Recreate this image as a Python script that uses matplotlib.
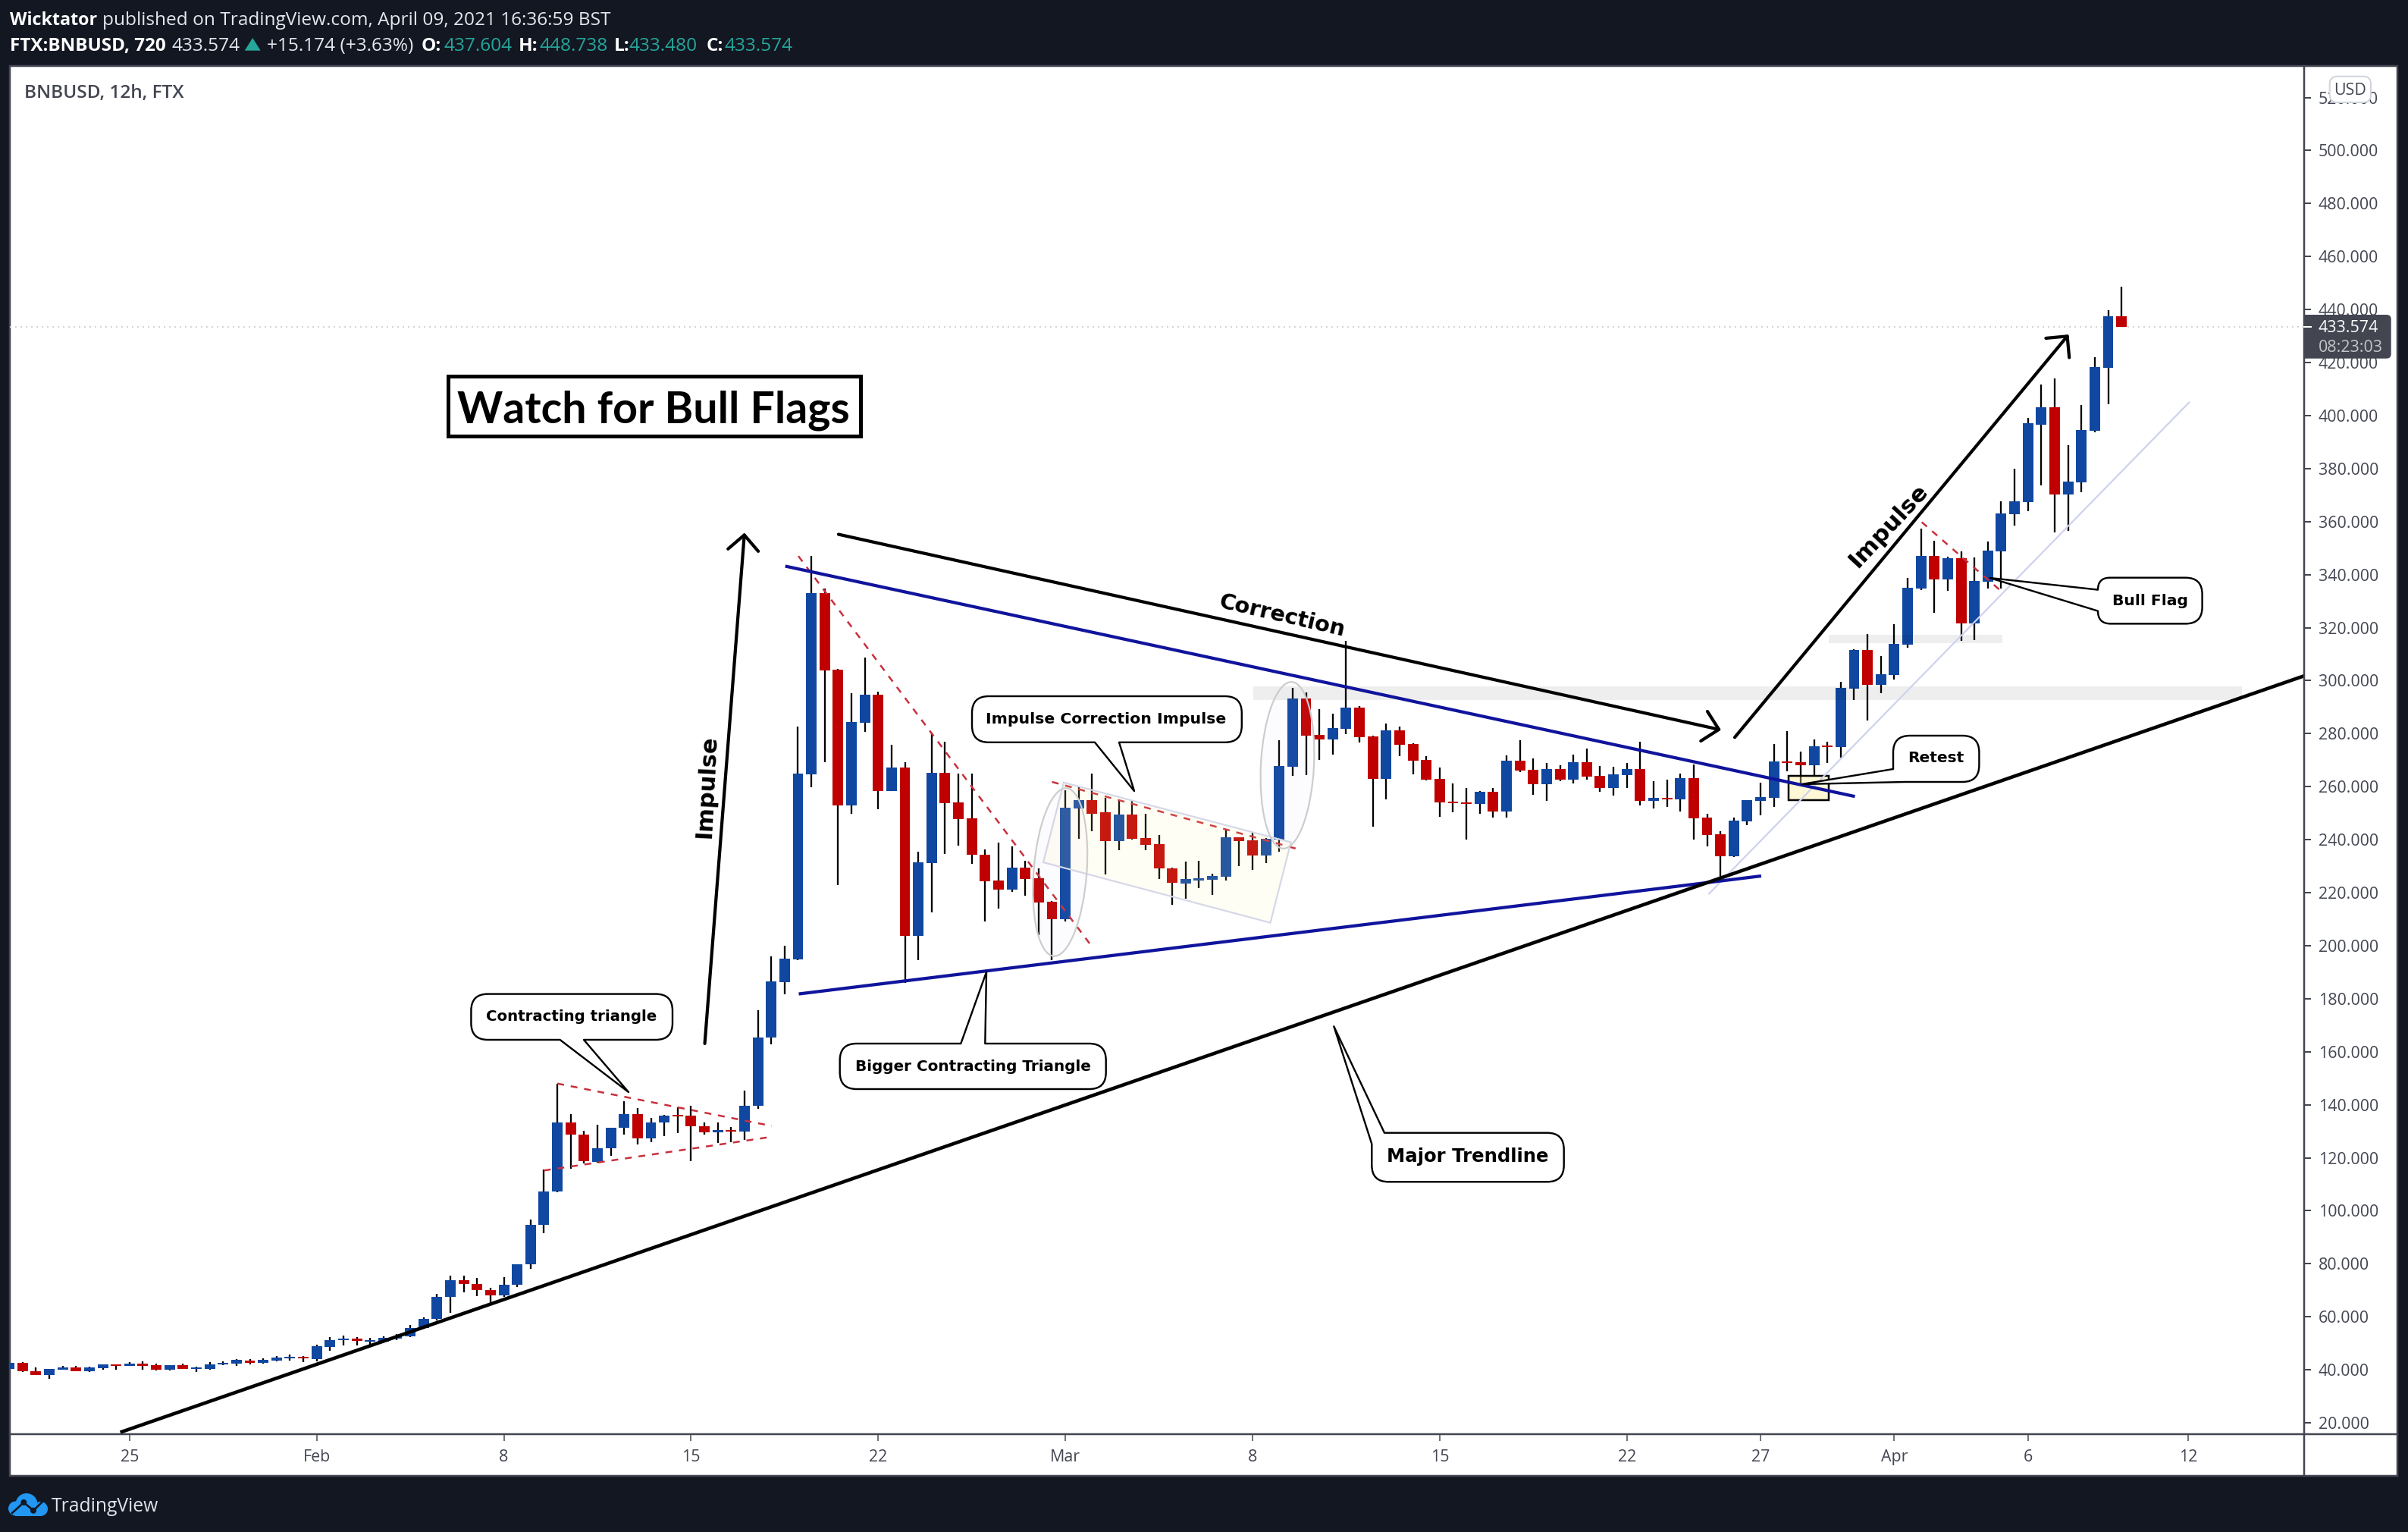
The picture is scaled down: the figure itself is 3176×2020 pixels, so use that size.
import matplotlib
matplotlib.use("Agg")
import matplotlib.pyplot as plt
from matplotlib.path import Path
from matplotlib.patches import PathPatch, Rectangle, Ellipse, Circle, Polygon
from matplotlib.textpath import TextPath
from matplotlib.font_manager import FontProperties
import math

# ---------- data: bars of 12 hours, index 0 = 25 Jan ----------
first_bar = -9
opens = [40.3,42.7,39.6,38.1,40.0,41.0,39.5,40.6,42.0,
 41.5,42.3,41.7,40.0,41.7,40.4,40.4,41.9,42.3,43.6,
 42.7,43.4,44.4,45.0,44.1,48.6,51.1,51.7,50.5,50.7,
 51.7,52.5,55.9,59.2,67.4,73.7,72.5,70.0,68.0,72.2,
 79.7,94.6,107.4,133.4,128.6,118.5,123.7,131.2,136.6,127.4,
 133.2,136.1,135.8,132.0,129.5,130.4,130.0,139.7,165.5,186.2,
 194.9,264.7,333.0,304.2,252.9,284.1,294.7,258.4,267.3,203.7,
 231.2,265.2,254.1,248.0,234.3,224.6,221.1,229.4,225.4,216.6,
 210.0,251.7,254.9,250.3,239.5,249.5,240.6,238.3,229.2,223.5,
 224.6,225.0,226.0,240.9,239.7,234.0,240.0,267.5,293.3,279.5,
 277.8,281.8,289.8,279.0,262.9,281.2,276.1,270.1,262.9,254.4,
 254.1,253.5,258.0,250.6,269.8,266.4,260.9,266.7,262.6,269.2,
 264.1,259.5,264.4,266.7,254.6,255.8,255.2,263.2,248.3,242.0,
 233.7,246.9,254.6,255.8,269.5,269.2,268.1,275.5,275.0,296.9,
 311.5,298.4,302.2,313.5,334.7,347.0,338.2,346.1,321.6,337.3,
 348.7,362.7,367.3,396.7,403.0,370.2,374.7,394.3,417.9,437.6]
closes = [42.7,39.5,38.1,40.3,41.0,39.5,41.0,42.0,41.5,
 42.3,41.6,40.0,41.7,40.4,41.0,42.0,42.7,43.7,42.7,
 43.7,44.5,45.0,44.2,48.8,51.1,51.7,50.8,51.1,52.0,
 52.5,55.9,59.3,67.5,73.7,72.5,70.0,68.2,72.2,79.7,
 94.6,107.4,133.4,128.6,118.6,123.7,131.2,136.6,127.4,133.3,
 135.9,135.5,132.0,129.5,130.4,130.0,139.7,165.5,186.6,195.1,
 264.9,333.0,303.8,252.9,284.4,294.7,258.4,267.3,203.7,231.4,
 265.2,253.7,247.8,234.3,224.3,221.1,229.4,225.1,216.3,210.0,
 252.1,254.9,249.7,239.5,249.5,240.3,238.1,229.2,223.7,225.1,
 225.4,226.3,240.9,239.5,234.0,240.3,267.8,293.3,279.2,277.8,
 282.1,289.8,278.7,262.9,281.2,275.8,269.8,262.6,254.2,253.9,
 253.5,258.0,250.6,269.8,266.1,260.9,266.7,262.6,269.2,263.8,
 259.5,264.6,266.7,254.6,255.8,255.2,263.2,248.1,241.8,233.7,
 247.2,254.9,256.1,269.5,268.9,268.1,275.2,275.0,297.3,311.5,
 298.5,302.4,313.8,335.0,347.0,338.2,346.1,321.6,337.6,349.0,
 363.0,367.6,397.0,403.0,370.2,375.0,394.6,418.2,437.5,433.6]
highs = [42.9,42.8,41.0,40.4,41.5,41.6,41.1,42.1,42.1,
 42.9,43.2,42.3,41.8,42.3,41.3,42.9,43.2,44.1,44.1,
 44.2,45.2,45.8,45.1,49.5,52.4,52.8,52.4,52.1,52.6,
 53.4,57.0,59.7,68.7,75.5,75.4,74.7,71.0,75.0,79.8,
 96.7,115.7,148.0,136.5,130.2,132.4,131.3,141.3,138.7,134.9,
 136.2,139.1,139.5,133.3,133.3,131.7,145.3,175.6,196.1,200.0,
 282.8,347.0,334.8,304.3,295.3,308.7,295.9,275.8,269.1,235.5,
 280.5,277.0,264.9,264.9,236.3,238.9,237.5,232.0,229.3,217.0,
 258.5,260.0,264.9,255.9,255.0,255.0,249.7,241.9,229.4,231.8,
 232.0,227.3,243.7,241.0,242.5,240.6,277.5,297.3,295.5,289.3,
 287.5,315.0,290.4,279.2,283.8,282.7,276.4,271.5,267.2,261.2,
 259.5,258.4,259.5,271.8,277.5,270.7,269.0,268.1,272.1,274.4,
 267.8,267.5,269.0,276.9,262.1,262.6,264.9,268.4,249.8,243.2,
 248.3,255.0,261.6,276.1,281.0,273.3,277.8,277.0,299.6,311.8,
 317.5,309.3,321.3,338.9,357.3,352.8,346.8,348.9,346.4,352.5,
 367.8,380.0,399.0,411.6,414.0,388.7,403.9,422.0,439.7,448.7]
lows = [40.0,39.2,38.0,36.6,39.9,39.4,39.2,40.0,40.0,
 41.4,40.0,39.8,39.8,40.2,39.2,40.0,41.8,41.6,41.9,
 42.3,43.3,43.4,42.9,43.2,47.1,49.1,49.2,49.5,50.5,
 51.1,52.4,55.8,58.7,61.6,69.2,67.9,65.0,67.6,71.2,
 78.0,91.5,107.0,116.0,117.8,118.1,120.7,128.6,124.9,126.0,
 128.3,129.4,118.6,128.6,125.7,126.0,126.6,138.6,162.7,181.7,
 194.5,259.8,269.2,223.0,249.7,280.7,251.5,258.3,185.9,194.5,
 212.7,234.7,237.7,230.8,209.2,214.1,220.3,218.8,204.0,194.5,
 209.2,240.3,243.2,227.0,236.1,240.0,236.1,225.1,215.3,217.7,
 221.7,219.1,224.6,230.0,228.6,231.2,235.5,264.2,264.5,270.2,
 272.2,279.9,276.8,245.0,255.3,271.6,264.7,262.4,248.7,250.4,
 240.1,249.9,248.2,248.4,265.5,257.0,254.7,262.1,261.3,262.7,
 258.2,256.7,259.6,253.0,251.9,252.4,250.7,240.1,237.6,224.9,
 233.6,245.6,249.3,252.4,265.9,261.0,264.5,269.0,271.0,292.8,
 285.1,295.3,300.4,312.4,334.3,325.7,334.0,315.0,315.3,334.7,
 334.7,358.5,363.8,373.7,355.9,356.5,371.1,393.8,404.3,433.5]

x_tick_bars = [0, 14, 28, 42, 56, 70, 84, 98, 112, 122, 132, 142, 154]
x_tick_labels = ['25', 'Feb', '8', '15', '22', 'Mar', '8', '15', '22', '27', 'Apr', '6', '12']
y_ticks = list(range(20, 521, 20))
last_price = 433.574

# drawings anchored on the chart: (bar, price) pairs
major_trend = [(-0.69, 16.4), (162.66, 301.8)]
upper_blue = [(49.05, 343.2), (129.06, 256.3)]
lower_blue = [(50.06, 181.8), (122.05, 226.3)]
faint_line = [(118.1, 219.4), (154.1, 405.2)]
red_dashes = [[(32.0, 148.0), (48.04, 132.0)],
              [(31.0, 115.2), (48.04, 127.9)],
              [(50.03, 347.0), (72.0, 199.6)],
              [(69.0, 261.8), (87.64, 236.1)],
              [(134.06, 359.8), (140.1, 333.3)]]
arrows = [[(43.03, 163.1), (46.0, 355.8)],
          [(53.03, 355.2), (119.05, 281.4)],
          [(120.07, 278.6), (145.05, 430.6)]]
grey_zones = [(84.05, 158.0, 292.7, 297.8), (127.1, 140.1, 314.1, 317.3)]
retest_box = (124.1, 127.1, 254.9, 264.1)

# ---------- figure ----------
W, H, DPI = 3176, 2020, 200
PX = 72 / DPI
DARK, GREY, TEAL = '#131722', '#434651', '#26a69a'
BLUE_C, RED_C = '#0f47a1', '#c00000'
OS = 'Open Sans'
DV = 'DejaVu Sans'

fig = plt.figure(figsize=(W / DPI, H / DPI), dpi=DPI, facecolor=DARK)

bg = fig.add_axes([0, 0, 1, 1], zorder=0)
bg.set_xlim(0, W); bg.set_ylim(H, 0); bg.axis('off')
bg.add_patch(Rectangle((13, 87), 3149, 1859, fc='white', ec=GREY, lw=2.5 * PX))

ax = fig.add_axes([13 / W, 1 - 1891 / H, 3026 / W, 1804 / H], zorder=1)
ax.patch.set_alpha(0)
ax.set_xlim(-8.95, 162.66)
ax.set_ylim(15.71, 531.9)
for s in ax.spines.values():
    s.set_visible(False)
ax.yaxis.tick_right()
ax.set_yticks(y_ticks)
ax.set_yticklabels([f'{v:.3f}' for v in y_ticks], fontfamily=OS, fontsize=7.7, color=GREY)
ax.set_xticks(x_tick_bars)
ax.set_xticklabels(x_tick_labels, fontfamily=OS, fontsize=7.7, color=GREY)
ax.tick_params(axis='y', length=9 * PX, width=2 * PX, color=GREY, pad=9.7 * PX)
ax.tick_params(axis='x', length=9 * PX, width=1.5 * PX, color=GREY, pad=11 * PX)

bars = list(range(first_bar, first_bar + len(opens)))
ax.vlines(bars, lows, highs, color='black', lw=2.3 * PX, zorder=2)
ax.bar(bars, [abs(c - o) for o, c in zip(opens, closes)],
       bottom=[min(o, c) for o, c in zip(opens, closes)], width=0.79,
       color=[BLUE_C if c >= o else RED_C for o, c in zip(opens, closes)], zorder=3, linewidth=0)

ax.axhline(last_price, color='#d4d4d4', lw=2 * PX, ls=(0, (1, 2.5)), zorder=1)

for b0, b1, p0, p1 in grey_zones:
    ax.add_patch(Rectangle((b0, p0), b1 - b0, p1 - p0, fc=(0, 0, 0, 0.065), ec='none', zorder=4))
b0, b1, p0, p1 = retest_box
ax.add_patch(Rectangle((b0, p0), b1 - b0, p1 - p0, fc=(1, 0.93, 0.55, 0.35), ec='black',
                       lw=2.5 * PX, zorder=4))


def draw(seg, **kw):
    ax.plot([seg[0][0], seg[1][0]], [seg[0][1], seg[1][1]], solid_capstyle='butt', **kw)


for seg in red_dashes:
    draw(seg, color='#c8303c', lw=2.5 * PX, ls=(0, (3.6, 3.6)), zorder=5)
draw(faint_line, color='#ced2ee', lw=2.2 * PX, zorder=5)
draw(upper_blue, color='#10149c', lw=4.2 * PX, zorder=6)
draw(lower_blue, color='#10149c', lw=4.2 * PX, zorder=6)
draw(major_trend, color='black', lw=4.6 * PX, zorder=6)
for a, b in arrows:
    ax.annotate('', xy=b, xytext=a, zorder=6,
                arrowprops=dict(arrowstyle=f'->,head_length={20 * PX},head_width={20 * PX}',
                                color='black', lw=4.2 * PX, shrinkA=0, shrinkB=0, mutation_scale=1))

# ---------- overlay in pixels of the picture ----------
ov = fig.add_axes([0, 0, 1, 1], zorder=5)
ov.set_xlim(0, W); ov.set_ylim(H, 0); ov.axis('off'); ov.patch.set_alpha(0)

ov.plot([3039, 3039], [87, 1946], color=GREY, lw=2.5 * PX)
ov.plot([13, 3162], [1891, 1891], color=GREY, lw=2.5 * PX)


def rpoly(pts):
    """polygon with per-vertex corner radius"""
    n = len(pts)
    verts, codes = [], []
    for k in range(n):
        x, y, r = pts[k]
        xp, yp, _ = pts[k - 1]
        xn, yn, _ = pts[(k + 1) % n]
        dp = math.hypot(xp - x, yp - y)
        dn = math.hypot(xn - x, yn - y)
        r = min(r, dp, dn)
        a = (x + (xp - x) / dp * r, y + (yp - y) / dp * r)
        b = (x + (xn - x) / dn * r, y + (yn - y) / dn * r)
        verts.append(a)
        codes.append(Path.MOVETO if k == 0 else Path.LINETO)
        if r > 0:
            verts += [(x, y), b]
            codes += [Path.CURVE3, Path.CURVE3]
    verts.append(verts[0])
    codes.append(Path.CLOSEPOLY)
    return Path(verts, codes)


def fit_size(s, width, family, weight):
    fp = FontProperties(family=family, weight=weight)
    w = TextPath((0, 0), s, size=10, prop=fp).get_extents().width
    return 10 * width / (w / PX)


def fit_text(cx, cy, s, width, family=DV, weight='bold', rotation=0, color='black'):
    ov.text(cx, cy, s, fontsize=fit_size(s, width, family, weight), family=family, weight=weight,
            color=color, ha='center', va='center', rotation=rotation, rotation_mode='anchor')


# flag channel and ellipses
ov.add_patch(Polygon([(1403, 1031.8), (1702.6, 1110.6), (1675.5, 1216.7), (1376, 1137)], closed=True,
                     fc=(1, 0.97, 0.6, 0.1), ec='#d5d8e8', lw=2.2 * PX))
for cx, cy, major, minor, ang in [(1398.3, 1150, 222, 70, -85.6), (1698, 1009, 220, 70, -87)]:
    ov.add_patch(Ellipse((cx, cy), major, minor, angle=ang, fc=(0.82, 0.72, 0.88, 0.05),
                         ec='#cdcdcd', lw=2.2 * PX))

# callouts
R = 22
callouts = [
    ('Contracting triangle', (754, 1340), 224,
     [(621.4, 1310.6, R), (887, 1310.6, R), (887, 1371, R), (770, 1371, 0), (829, 1440, 0),
      (738.6, 1371, 0), (621.4, 1371, R)]),
    ('Impulse Correction Impulse', (1459, 948), 314,
     [(1282, 918, R), (1637.8, 918, R), (1637.8, 978.8, R), (1476, 978.8, 0), (1496, 1043, 0),
      (1444, 978.8, 0), (1282, 978.8, R)]),
    ('Bigger Contracting Triangle', (1283, 1406), 308,
     [(1107.7, 1376, R), (1267.3, 1376, 0), (1301, 1281.7, 0), (1299.3, 1376, 0),
      (1458.7, 1376, R), (1458.7, 1436, R), (1107.7, 1436, R)]),
    ('Major Trendline', (1936, 1525), 211,
     [(1826, 1493.7, 0), (2062.7, 1493.7, R), (2062.7, 1558.3, R), (1809.3, 1558.3, R),
      (1809.3, 1508.3, 0), (1759.3, 1353.3, 0)]),
    ('Retest', (2553.7, 999.5), 71.6,
     [(2497, 970, R), (2610.4, 970, R), (2610.4, 1031, R), (2512, 1031, 0), (2376.5, 1034, 0),
      (2497, 1014, 0)]),
    ('Bull Flag', (2836, 792), 96.4,
     [(2767, 761.7, R), (2904.6, 761.7, R), (2904.6, 822.4, R), (2767, 822.4, R),
      (2767, 805.6, 0), (2624.5, 762, 0), (2767, 777.6, 0)]),
]
for label, (cx, cy), tw, pts in callouts:
    ov.add_patch(PathPatch(rpoly(pts), fc='white', ec='black', lw=2.4 * PX, joinstyle='round'))
    fit_text(cx, cy, label, tw)

# free labels
fit_text(932, 1037, 'Impulse', 132, rotation=87)
fit_text(1691, 812, 'Correction', 167, rotation=-13)
fit_text(2491, 693, 'Impulse', 134, rotation=47)

# headline box
ov.add_patch(Rectangle((591, 495.5), 543.5, 79, fc='white', ec='black', lw=5 * PX))
ov.text(603, 558, 'Watch for Bull Flags', family='Lato', weight='bold', color='black',
        fontsize=fit_size('Watch for Bull Flags', 516, 'Lato', 'bold'), ha='left', va='baseline')

# header: each bold word is sized to the width it spans in the reference
for x, base, s, col, wt, span in [
    (13, 32.7, 'Wicktator', 'white', 'bold', 114.7),
    (134.7, 32.7, 'published on TradingView.com, April 09, 2021 16:36:59 BST', '#e6e8ee', 'normal', None),
    (12.6, 66.7, 'FTX:BNBUSD, 720', 'white', 'bold', 203.4),
    (226.6, 66.7, '433.574', '#e6e8ee', 'normal', None),
    (351.5, 66.7, '+15.174 (+3.63%)', '#e6e8ee', 'normal', None),
    (556, 66.7, 'O:', 'white', 'bold', None),
    (585, 66.7, '437.604', TEAL, 'normal', None),
    (684, 66.7, 'H:', 'white', 'bold', None),
    (711, 66.7, '448.738', TEAL, 'normal', None),
    (810, 66.7, 'L:', 'white', 'bold', None),
    (830, 66.7, '433.480', TEAL, 'normal', None),
    (932, 66.7, 'C:', 'white', 'bold', None),
    (956, 66.7, '433.574', TEAL, 'normal', None),
]:
    size = fit_size(s, span, OS, wt) if span else 8.8
    ov.text(x, base, s, family=OS, weight=wt, color=col, fontsize=size, ha='left', va='baseline')
ov.add_patch(Polygon([(322.7, 66.7), (343.7, 66.7), (333.2, 50)], closed=True, fc=TEAL, ec='none'))
ov.text(31.6, 129, 'BNBUSD, 12h, FTX', family=OS, weight='semibold', color=GREY,
        fontsize=fit_size('BNBUSD, 12h, FTX', 208.4, OS, 'semibold'), ha='left', va='baseline')

# price label and currency button
ov.add_patch(PathPatch(rpoly([(3039, 415, 0), (3153.7, 415, 6), (3153.7, 472.7, 6), (3039, 472.7, 0)]),
                       fc=GREY, ec='none'))
ov.plot([3039, 3048], [430.7, 430.7], color='white', lw=2 * PX)
ov.text(3057.7, 438.3, f'{last_price:.3f}', family=OS, color='white', fontsize=7.7, ha='left', va='baseline')
ov.text(3057.7, 464, '08:23:03', family=OS, color='#c4c5ca', fontsize=7.7, ha='left', va='baseline')
ov.add_patch(PathPatch(rpoly([(3072.7, 100.7, 10), (3127, 100.7, 10), (3127, 135, 10), (3072.7, 135, 10)]),
                       fc='white', ec='#d1d4dc', lw=2 * PX))
ov.text(3100, 125, 'USD', family=OS, color=GREY, fontsize=7.7, ha='center', va='baseline')

# logo
LOGO = '#2196f3'
for (cx, cy, r) in [(35, 1983.5, 14.5), (20.5, 1989, 9.5), (53.5, 1989.5, 9.5)]:
    ov.add_patch(Circle((cx, cy), r, fc=LOGO, ec='none'))
ov.add_patch(Rectangle((20, 1985), 34, 13.7, fc=LOGO, ec='none'))
ov.plot([16, 31.3, 44, 56], [1995, 1981, 1991.7, 1980], color=DARK, lw=2.6 * PX)
ov.add_patch(Circle((31.3, 1981), 4, fc=DARK, ec='none'))
ov.add_patch(Circle((44, 1991.7), 4, fc=DARK, ec='none'))
ov.text(68, 1993, 'TradingView', family=OS, color='#e0e3eb',
        fontsize=fit_size('TradingView', 141, OS, 'normal'), ha='left', va='baseline')

fig.savefig('out.png', dpi=DPI, facecolor=DARK)
